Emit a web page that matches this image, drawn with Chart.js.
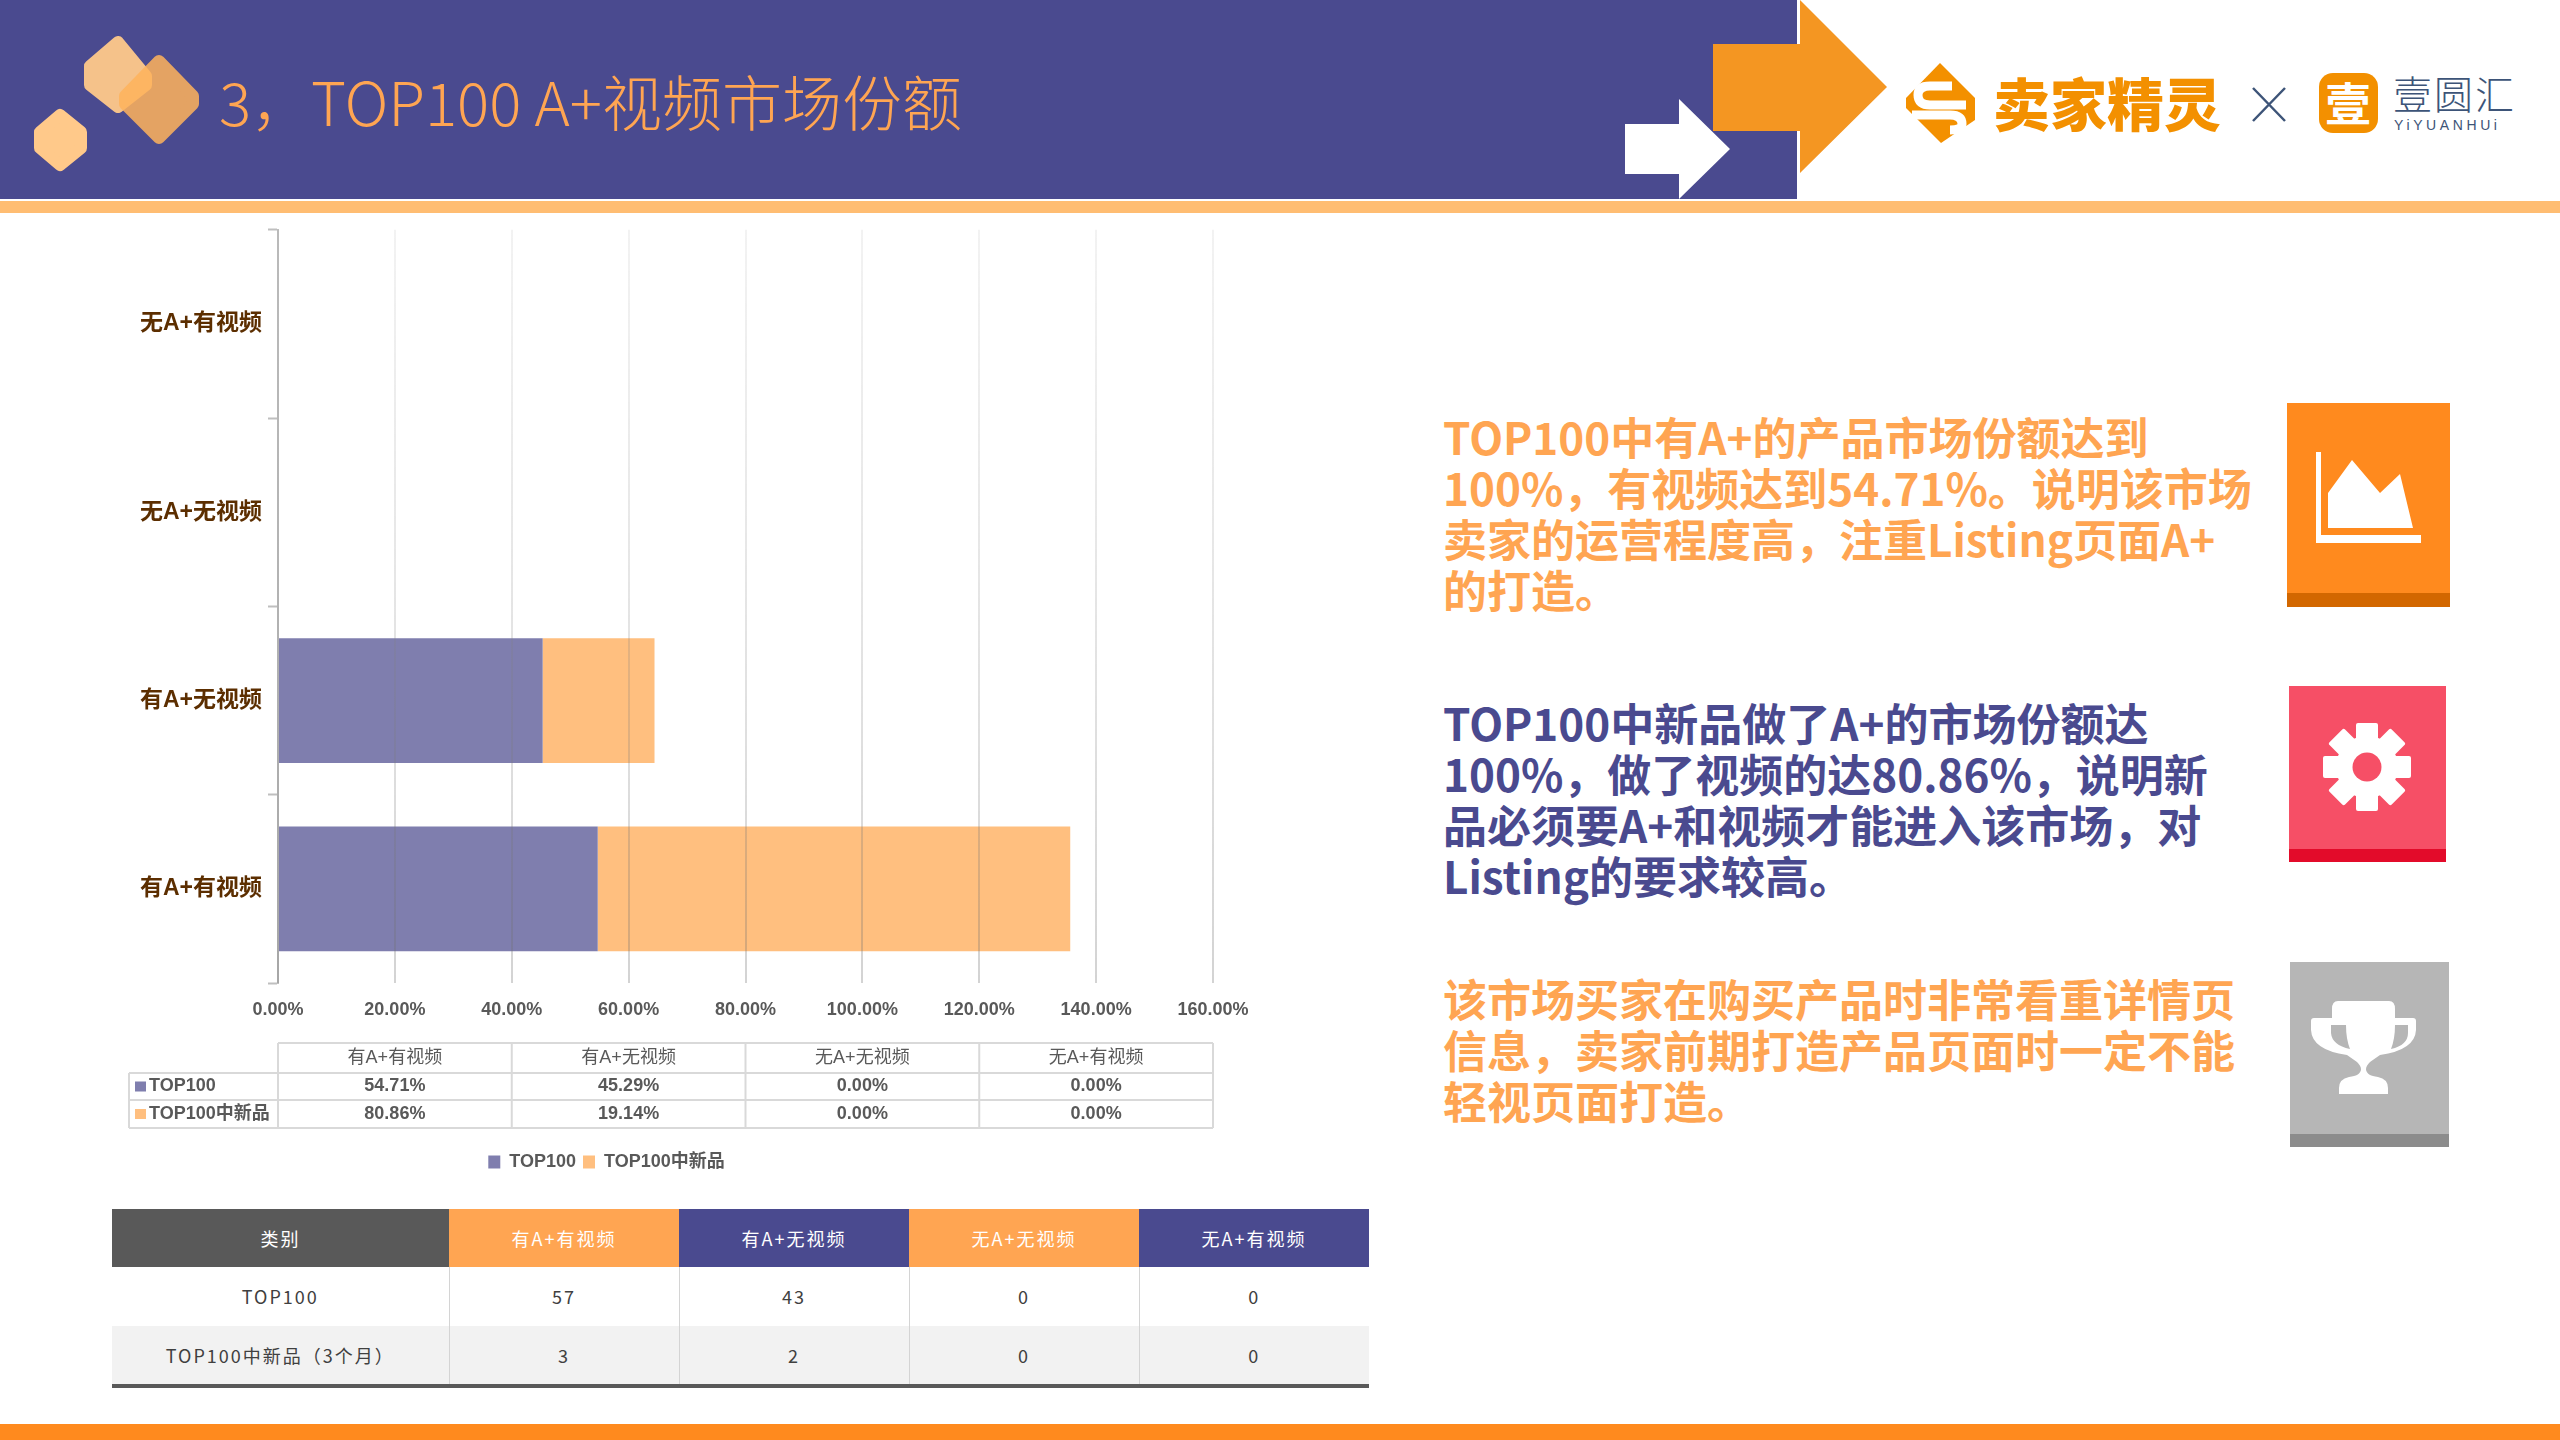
<!DOCTYPE html>
<html>
<head>
<meta charset="utf-8">
<title>TOP100 A+视频市场份额</title>
<script src="https://cdn.jsdelivr.net/npm/chart.js@4"></script>
<style>
  html, body { margin: 0; padding: 0; background: #fff; }
  body { width: 2560px; height: 1440px; position: relative; overflow: hidden;
         font-family: "Liberation Sans", "Noto Sans CJK SC", sans-serif; }
  .abs { position: absolute; }
  #chrome { left: 0; top: 0; }
  #title { left: 219px; top: 58px; font: 300 60px/84px "Noto Sans CJK SC", sans-serif; color: #ffa552; white-space: nowrap; }
  #chartBox { left: 0; top: 210px; }
  .note { left: 1443px; font: bold 44px/51px "Noto Sans CJK SC", sans-serif; white-space: nowrap; }
  #countTable { left: 112px; top: 1209px; width: 1257px; border-collapse: collapse; table-layout: fixed;
                font: 18px "Noto Sans CJK SC", sans-serif; letter-spacing: 2px; color: #404040; text-align: center;
                border-bottom: 4px solid #595959; }
  #countTable th { height: 58px; padding: 0; font-weight: 400; color: #fff; }
  #countTable td { height: 58.5px; padding: 0; border-left: 1px solid #d4d4d4; }
  #countTable td:first-child { border-left: 0; }
  #countTable tr.alt td { background: #f2f2f2; }
</style>
</head>
<body>

<svg id="chrome" class="abs" width="2560" height="1440" xmlns="http://www.w3.org/2000/svg">
  <rect x="0" y="0" width="1797" height="199" fill="#4a4a8f"/>
  <rect x="0" y="201" width="2560" height="12" fill="#ffbd72"/>
  <rect x="0" y="1424" width="2560" height="16" fill="#ff8a1e"/>

  <!-- hexagons -->
  <g stroke-linejoin="round" stroke-width="12">
    <polygon points="118,42 146,76 146,85 118,107 90,85 90,66" fill="#ffc98a" stroke="#ffc98a" opacity="0.95"/>
    <polygon points="159,61 193,96 193,104 159,138 125,104 125,96" fill="#ffb35c" stroke="#ffb35c" opacity="0.85"/>
    <polygon points="60,115 81,132 81,148 60,165 40,148 40,132" fill="#ffc98a" stroke="#ffc98a"/>
  </g>

  <!-- arrows -->
  <polygon points="1713,44 1800,44 1800,0 1887,87 1800,173 1800,131 1713,131" fill="#f49622"/>
  <polygon points="1625,124 1679,124 1679,99 1730,149 1679,199 1679,174 1625,174" fill="#fff"/>

  <!-- seller logo -->
  <polygon points="1940,63 1975,98 1975,120 1941,143 1906,108 1906,98" fill="#f39000"/>
  <path d="M1966,105 L1930,105 Q1918,105 1918,95 Q1918,86 1930,86 L1952,86 M1912,115 L1950,115 Q1962,115 1962,124 Q1962,130 1950,130"
        fill="none" stroke="#fff" stroke-width="9"/>
  <text x="1993" y="126" font-family="Noto Sans CJK SC" font-weight="900" font-size="57" fill="#f39000">卖家精灵</text>
  <path d="M2253,88 L2285,121 M2285,88 L2253,121" stroke="#3d5478" stroke-width="2.5" fill="none"/>
  <rect x="2319" y="73" width="59" height="60" rx="14" fill="#f39000"/>
  <text x="2348" y="121" text-anchor="middle" font-family="Noto Sans CJK SC" font-weight="700" font-size="46" fill="#fff">壹</text>
  <text x="2393" y="109" font-family="Noto Sans CJK SC" font-weight="300" font-size="39" letter-spacing="2" fill="#3d5478">壹圆汇</text>
  <text x="2394" y="130" font-family="Liberation Sans" font-size="14" letter-spacing="3.6" fill="#3d5478">YiYUANHUi</text>

  <!-- icon 1 -->
  <rect x="2287" y="403" width="163" height="190" fill="#ff8a1e"/>
  <rect x="2287" y="593" width="163" height="14" fill="#d26700"/>
  <path d="M2316,452 h5 v83 h100 v8 h-105 z" fill="#fff"/>
  <polygon points="2328,493 2352,460 2380,493 2400,474 2413,528 2328,528" fill="#fff"/>

  <!-- icon 2 -->
  <rect x="2289" y="686" width="157" height="163" fill="#f64f66"/>
  <rect x="2289" y="849" width="157" height="13" fill="#e30b2a"/>
  <g fill="#fff" transform="translate(2367,767)">
    <circle r="31"/>
    <rect x="-11" y="-44" width="22" height="88" rx="2"/>
    <rect x="-11" y="-44" width="22" height="88" rx="2" transform="rotate(45)"/>
    <rect x="-11" y="-44" width="22" height="88" rx="2" transform="rotate(90)"/>
    <rect x="-11" y="-44" width="22" height="88" rx="2" transform="rotate(135)"/>
    <circle r="14.5" fill="#f64f66"/>
  </g>

  <!-- icon 3 -->
  <rect x="2290" y="962" width="159" height="172" fill="#b6b6b6"/>
  <rect x="2290" y="1134" width="159" height="13" fill="#8c8c8c"/>
  <path d="M2352,1001 h37 q6,0 6,8 v9 h18 q3,0 3,3 v9 q-1,20 -36,25 l-10,7 q-8,8 0,13 q2,1 8,2 q10,2 10,11 v6 h-49 v-6 q0,-9 10,-11 q6,-1 8,-2 q8,-5 0,-13 l-10,-7 q-35,-5 -36,-25 v-9 q0,-3 3,-3 h18 v-9 q0,-8 6,-8 z" fill="#fff"/>
  <path d="M2331,1025 h15 q0,14 4,24 q-18,-4 -19,-16 z M2408,1025 h-13 q0,14 -4,24 q17,-4 17,-16 z" fill="#b6b6b6"/>
</svg>

<div id="title" class="abs">3，TOP100 A+视频市场份额</div>

<div id="chartBox" class="abs">
  <canvas id="shareChart" width="1352" height="971"></canvas>
</div>

<div class="note abs" style="top:411px;color:#ffa552">TOP100中有A+的产品市场份额达到<br>100%，有视频达到54.71%。说明该市场<br>卖家的运营程度高，注重Listing页面A+<br>的打造。</div>
<div class="note abs" style="top:697px;color:#4a4a8f">TOP100中新品做了A+的市场份额达<br>100%，做了视频的达80.86%，说明新<br>品必须要A+和视频才能进入该市场，对<br>Listing的要求较高。</div>
<div class="note abs" style="top:973px;color:#ffa552">该市场买家在购买产品时非常看重详情页<br>信息，卖家前期打造产品页面时一定不能<br>轻视页面打造。</div>

<table id="countTable" class="abs"></table>

<script>
const categories = ['有A+有视频', '有A+无视频', '无A+无视频', '无A+有视频'];
const top100Share = [54.71, 45.29, 0, 0];
const newShare = [80.86, 19.14, 0, 0];
const seriesNames = ['TOP100', 'TOP100中新品'];
const seriesColors = ['#7f7eae', '#ffbf7f'];

const countHeader = ['类别', '有A+有视频', '有A+无视频', '无A+无视频', '无A+有视频'];
const countHeaderColors = ['#595959', '#ffa552', '#4a4a8f', '#ffa552', '#4a4a8f'];
const top100Counts = ['TOP100', 57, 43, 0, 0];
const newCounts = ['TOP100中新品（3个月）', 3, 2, 0, 0];

const pct = v => v.toFixed(2) + '%';
const textGrey = '#595959';
const latinCjk = '"Liberation Sans", "Noto Sans CJK SC", sans-serif';

// the data table under the axis, columns follow the x scale
const dataTablePlugin = {
  id: 'dataTable',
  afterDraw(chart) {
    const { ctx } = chart;
    const x = chart.scales.x;
    const rows = [776 + 57, 863, 890, 918]; // row lines, canvas coords
    const left = 129;
    const edges = [0, 40, 80, 120, 160].map(v => x.getPixelForValue(v));
    const values = [top100Share, newShare];

    ctx.save();
    ctx.strokeStyle = '#d9d9d9';
    ctx.lineWidth = 2;
    ctx.beginPath();
    ctx.moveTo(edges[0], rows[0]);
    ctx.lineTo(edges[4], rows[0]);
    for (let i = 1; i < 4; i++) {
      ctx.moveTo(left, rows[i]);
      ctx.lineTo(edges[4], rows[i]);
    }
    edges.forEach(e => {
      ctx.moveTo(e, rows[0]);
      ctx.lineTo(e, rows[3]);
    });
    ctx.moveTo(left, rows[1]);
    ctx.lineTo(left, rows[3]);
    ctx.stroke();

    ctx.textBaseline = 'middle';
    ctx.fillStyle = textGrey;
    ctx.textAlign = 'center';
    ctx.font = '18px ' + latinCjk;
    categories.forEach((c, i) => {
      ctx.fillText(c, (edges[i] + edges[i + 1]) / 2, (rows[0] + rows[1]) / 2);
    });
    ctx.font = 'bold 18px ' + latinCjk;
    values.forEach((series, r) => {
      const mid = (rows[r + 1] + rows[r + 2]) / 2;
      series.forEach((v, i) => {
        ctx.fillText(pct(v), (edges[i] + edges[i + 1]) / 2, mid);
      });
      ctx.textAlign = 'left';
      ctx.fillText(seriesNames[r], left + 20, mid);
      ctx.textAlign = 'center';
      ctx.fillStyle = seriesColors[r];
      ctx.fillRect(left + 6, mid - 5, 11, 10);
      ctx.fillStyle = textGrey;
    });
    ctx.restore();
  }
};

new Chart(document.getElementById('shareChart').getContext('2d'), {
  type: 'bar',
  plugins: [dataTablePlugin],
  data: {
    labels: categories,
    datasets: [
      { label: seriesNames[0], data: top100Share, backgroundColor: seriesColors[0] },
      { label: seriesNames[1], data: newShare, backgroundColor: seriesColors[1] }
    ]
  },
  options: {
    indexAxis: 'y',
    responsive: false,
    animation: false,
    devicePixelRatio: 1,
    layout: { padding: { left: 0, right: 139, top: 17, bottom: 0 } },
    datasets: { bar: { categoryPercentage: 1, barPercentage: 0.663 } },
    scales: {
      x: {
        stacked: true,
        min: 0,
        max: 160,
        afterFit: scale => { scale.height = 163; },
        border: { display: false },
        grid: {
          z: 1,
          lineWidth: 2,
          drawTicks: false,
          color: c => {
            const area = c.chart.chartArea;
            if (!area) return 'rgba(130,130,130,0.25)';
            const g = c.chart.ctx.createLinearGradient(0, area.top, 0, area.bottom);
            g.addColorStop(0, 'rgba(150,150,150,0.12)');
            g.addColorStop(1, 'rgba(110,110,110,0.3)');
            return g;
          }
        },
        ticks: {
          stepSize: 20,
          padding: 16,
          maxRotation: 0,
          color: textGrey,
          font: { family: latinCjk, size: 18, weight: 'bold' },
          callback: v => pct(v)
        }
      },
      y: {
        stacked: true,
        reverse: true,
        afterFit: scale => { scale.width = 278; },
        border: { color: '#bfbfbf', width: 2 },
        grid: { offset: true, drawOnChartArea: false, tickLength: 10, tickColor: '#bfbfbf', tickWidth: 2 },
        ticks: {
          padding: 6,
          color: '#5c2e00',
          font: { family: latinCjk, size: 23, weight: 'bold' }
        }
      }
    },
    plugins: {
      tooltip: { enabled: false },
      legend: {
        position: 'bottom',
        labels: {
          boxWidth: 12,
          boxHeight: 13,
          padding: 7,
          color: textGrey,
          font: { family: latinCjk, size: 18, weight: 'bold' }
        }
      }
    }
  }
});

// count table below the chart
const tableEl = document.getElementById('countTable');
const colWidths = [337, 230, 230, 230, 230];
const cols = colWidths.map(w => `<col style="width:${w}px">`).join('');
const headCells = countHeader.map((h, i) => `<th style="background:${countHeaderColors[i]}">${h}</th>`).join('');
const rowHtml = (row, cls) => `<tr class="${cls}">` + row.map(v => `<td>${v}</td>`).join('') + '</tr>';
tableEl.innerHTML = `<colgroup>${cols}</colgroup><tr>${headCells}</tr>` + rowHtml(top100Counts, '') + rowHtml(newCounts, 'alt');
</script>
</body>
</html>
